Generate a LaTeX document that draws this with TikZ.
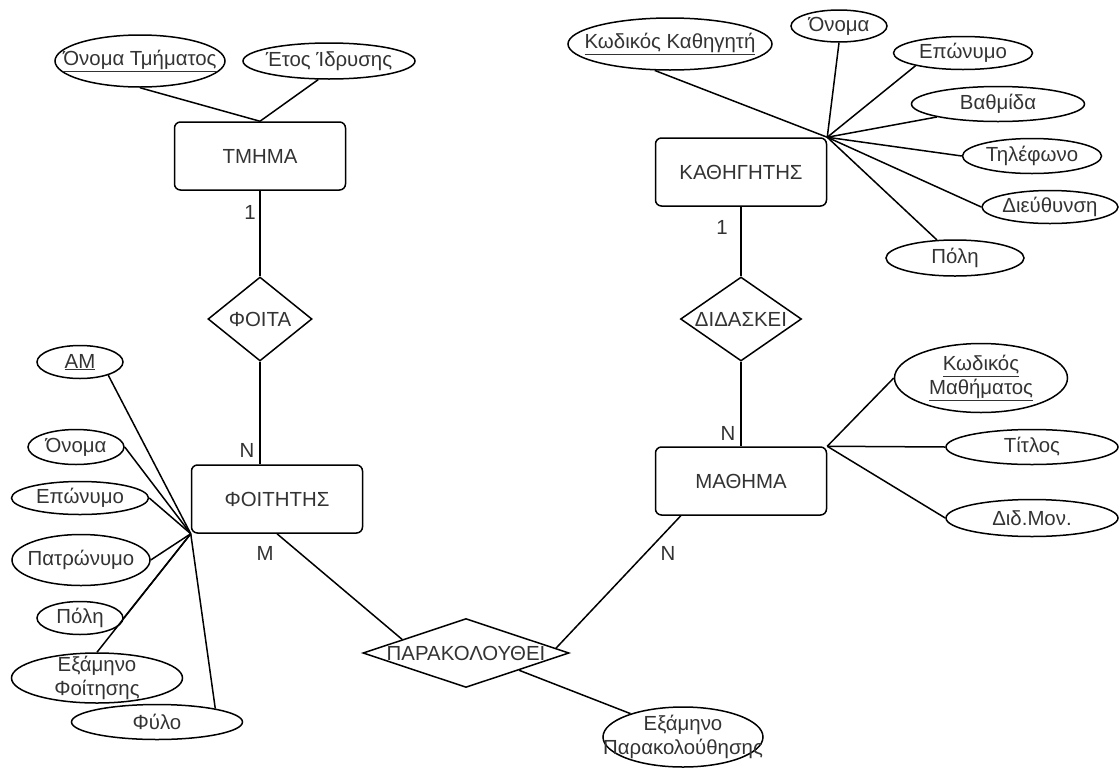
\documentclass[tikz,border=0pt]{standalone}
\usepackage{fontspec}
\usetikzlibrary{shapes.geometric}
\newfontfamily\erfamily{Liberation Sans}
\newcommand\erfont{\erfamily\fontsize{20.4}{23.5}\selectfont}
\definecolor{ertext}{HTML}{333333}

\tikzset{
  entity/.style={draw, rounded corners=6pt, minimum width=171pt, minimum height=68pt, inner sep=0pt},
  relation/.style={diamond, draw, inner sep=0pt, label={center:#1}},
  attr/.style={ellipse, draw, inner sep=0pt, label={[align=center]center:#1}},
  card/.style={inner sep=0pt},
  link/.style={draw, line width=1.5pt}
}

\begin{document}
\begin{tikzpicture}[x=1pt,y=-1pt,font=\erfont,text=ertext,line width=1.5pt]
\useasboundingbox (0,0) rectangle (1120,769);

% entities
\node[entity] (tmima) at (260,156) {ΤΜΗΜΑ};
\node[entity] (foititis) at (277,499) {ΦΟΙΤΗΤΗΣ};
\node[entity] (kath) at (741,172) {ΚΑΘΗΓΗΤΗΣ};
\node[entity] (mathima) at (741,481) {ΜΑΘΗΜΑ};

% relationships
\node[relation=ΦΟΙΤΑ, minimum width=104pt, minimum height=84pt] (foita) at (260,319) {};
\node[relation=ΔΙΔΑΣΚΕΙ, minimum width=121pt, minimum height=84pt] (didaskei) at (741,319) {};
\node[relation=ΠΑΡΑΚΟΛΟΥΘΕΙ, minimum width=206pt, minimum height=69pt] (parak) at (466,653) {};

% attributes of TMHMA
\node[attr={\underline{Όνομα Τμήματος}}, minimum width=170pt, minimum height=52pt] (ot) at (140,61) {};
\node[attr={Έτος Ίδρυσης}, minimum width=172pt, minimum height=36pt] (ei) at (329,61) {};

% attributes of FOITHTHS
\node[attr={\underline{ΑΜ}}, minimum width=86pt, minimum height=33pt] (am) at (80,362) {};
\node[attr={Όνομα}, minimum width=96pt, minimum height=35pt] (fon) at (76,447) {};
\node[attr={Επώνυμο}, minimum width=137pt, minimum height=33pt] (fep) at (80,498) {};
\node[attr={Πατρώνυμο}, minimum width=138pt, minimum height=51pt] (fpa) at (81,560) {};
\node[attr={Πόλη}, minimum width=86pt, minimum height=33pt] (fpo) at (80,618) {};
\node[attr={Εξάμηνο\\Φοίτησης}, minimum width=171pt, minimum height=50pt] (fex) at (97,678) {};
\node[attr={Φύλο}, minimum width=171pt, minimum height=35pt] (ffy) at (157,722) {};

% attributes of KA8HGHTHS
\node[attr={\underline{Κωδικός Καθηγητή}}, minimum width=204pt, minimum height=52pt] (kk) at (670,44) {};
\node[attr={Όνομα}, minimum width=96pt, minimum height=32pt] (ko) at (839,26) {};
\node[attr={Επώνυμο}, minimum width=139pt, minimum height=33pt] (kep) at (963,53) {};
\node[attr={Βαθμίδα}, minimum width=173pt, minimum height=35pt] (kb) at (998,104) {};
\node[attr={Τηλέφωνο}, minimum width=139pt, minimum height=35pt] (kt) at (1032,156) {};
\node[attr={Διεύθυνση}, minimum width=136pt, minimum height=33pt] (kd) at (1050,207) {};
\node[attr={Πόλη}, minimum width=138pt, minimum height=36pt] (kp) at (955,258) {};

% attributes of MA8HMA
\node[attr={\underline{Κωδικός}\\\underline{Μαθήματος}}, minimum width=173pt, minimum height=69pt] (km) at (981,378) {};
\node[attr={Τίτλος}, minimum width=172pt, minimum height=35pt] (mt) at (1032,447) {};
\node[attr={Διδ.Μον.}, minimum width=172pt, minimum height=37pt] (md) at (1032,518) {};

% attribute of PARAKOLOY8EI
\node[attr={Εξάμηνο\\Παρακολούθησης}, minimum width=160pt, minimum height=60pt] (ep) at (683,737) {};

% cardinalities
\node[card] (t1) at (250,212) {1};
\node[card] (fN) at (247,450) {N};
\node[card] (fM) at (265,553) {M};
\node[card] (k1) at (722,227) {1};
\node[card] (dN) at (728,433) {N};
\node[card] (mN) at (668,553) {N};

% connectors
\draw[link] (ot.south) -- (tmima.north);
\draw[link] (ei.-120) -- (tmima.north);
\draw[link] (tmima) -- (foita);
\draw[link] (foita.south) -- (foita.south |- foititis.north);
\draw[link] (foititis.south) -- (parak.168);
\draw[link] (mathima.-150) -- (parak.3);
\draw[link] (parak.-18) -- (ep.156);
\draw[link] (kath) -- (didaskei);
\draw[link] (didaskei) -- (mathima);

\foreach \a in {am.-25, fon.east, fep.east, fpa.east, fpo.east, fex.north, ffy.13}
  \draw[link] (foititis.south west) -- (\a);
\foreach \a in {kk.-120, ko.south, kep.-165, kb.-168, kt.west, kd.west, kp.135}
  \draw[link] (kath.north east) -- (\a);
\foreach \a in {km.west, mt.west, md.west}
  \draw[link] (mathima.north east) -- (\a);
\end{tikzpicture}
\end{document}
